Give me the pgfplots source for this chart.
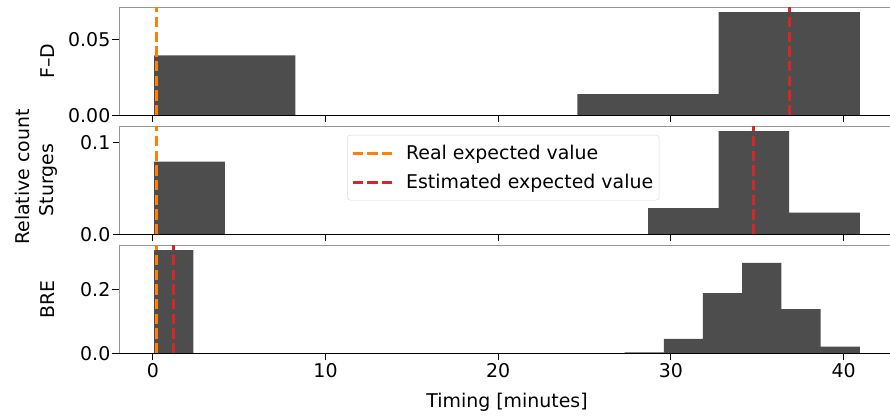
\documentclass[border=0pt]{standalone}
\usepackage{pgfplots}
\pgfplotsset{compat=1.18}
\usepackage{fontspec}
\setmainfont{DejaVu Sans}
\definecolor{barc}{RGB}{77,77,77}
\definecolor{torange}{HTML}{FF7F0E}
\definecolor{tred}{HTML}{D62728}
\definecolor{spine}{RGB}{150,150,150}

\pgfplotsset{
  hpanel/.style={
    scale only axis, width=776bp, height=108.3bp,
    xmin=-1.96, xmax=42.98, ymin=0,
    anchor=north west,
    axis line style={draw=spine, line width=0.9bp},
    tick style={black, line width=0.9bp},
    tick align=outside, major tick length=6.5bp,
    xtick={0,10,20,30,40},
    xtick pos=bottom, ytick pos=left,
    scaled y ticks=false,
    font=\fontsize{19}{22.8}\selectfont,
    /pgf/number format/assume math mode=true,
    yticklabel style={inner xsep=2bp},
    ylabel style={at={(axis description cs:-0.0915,0.5)}, anchor=center},
    bars/.style={ybar interval, fill=barc, draw=none, forget plot},
    realv/.style={torange, line width=2.78bp, dash pattern=on 10.3bp off 4.4bp},
    estv/.style={tred, line width=2.78bp, dash pattern=on 10.3bp off 4.4bp},
  }
}

\begin{document}
\begin{tikzpicture}
% ---------------- F-D -----------------
\begin{axis}[hpanel, at={(119bp,-7bp)}, ymax=0.0715,
  ytick={0,0.05}, xticklabels={},
  yticklabel style={/pgf/number format/fixed, /pgf/number format/fixed zerofill, /pgf/number format/precision=2},
  ylabel={F–D}]
\addplot[bars] coordinates {(0.08,0.0396) (8.25,0) (16.42,0) (24.59,0.0139) (32.77,0.0681) (40.94,0.0681)};
\addplot[realv] coordinates {(0.23,0) (0.23,0.0715)};
\addplot[estv] coordinates {(36.85,0) (36.85,0.0715)};
\draw[black, line width=0.9bp] (rel axis cs:0,0) -- (rel axis cs:1,0);
\end{axis}
% ---------------- Sturges -----------------
\begin{axis}[hpanel, at={(119bp,-126bp)}, ymax=0.1176,
  ytick={0,0.1}, xticklabels={},
  yticklabel style={/pgf/number format/fixed, /pgf/number format/fixed zerofill, /pgf/number format/precision=1},
  ylabel={Sturges},
  legend style={at={(rel axis cs:0.294,0.917)}, anchor=north west,
    draw=black!15, rounded corners=3bp, fill=white, fill opacity=0.8, text opacity=1,
    font=\fontsize{19}{22.8}\selectfont, inner xsep=4bp, inner ysep=8bp,
    row sep=9.3bp, legend cell align=left},
  legend image code/.code={\draw[#1] (0bp,0bp) -- (40bp,0bp);},
  /tikz/every odd column/.append style={column sep=10bp}]
\addplot[bars] coordinates {(0.08,0.0789) (4.17,0) (8.25,0) (12.34,0) (16.42,0) (20.51,0) (24.59,0) (28.68,0.0284) (32.77,0.112) (36.85,0.0236) (40.94,0.0236)};
\addplot[realv] coordinates {(0.23,0) (0.23,0.1176)};
\addlegendentry{Real expected value}
\addplot[estv] coordinates {(34.8,0) (34.8,0.1176)};
\addlegendentry{Estimated expected value}
\draw[black, line width=0.9bp] (rel axis cs:0,0) -- (rel axis cs:1,0);
\end{axis}
% ---------------- BRE -----------------
\begin{axis}[hpanel, at={(119bp,-245bp)}, ymax=0.338,
  ytick={0,0.2},
  yticklabel style={/pgf/number format/fixed, /pgf/number format/fixed zerofill, /pgf/number format/precision=1},
  ylabel={BRE},
  xlabel={Timing [minutes]},
  xlabel style={at={(axis description cs:0.5,0)}, anchor=center, yshift=-49bp}]
\addplot[bars] coordinates {(0.08,0.322) (2.35,0) (4.62,0) (6.89,0) (9.16,0) (11.43,0) (13.70,0) (15.97,0) (18.24,0) (20.51,0) (22.78,0) (25.05,0) (27.32,0.003) (29.59,0.0447) (31.86,0.1875) (34.13,0.282) (36.40,0.1375) (38.67,0.0208) (40.94,0.0208)};
\addplot[realv] coordinates {(0.23,0) (0.23,0.338)};
\addplot[estv] coordinates {(1.2,0) (1.2,0.338)};
\draw[black, line width=0.9bp] (rel axis cs:0,0) -- (rel axis cs:1,0);
\end{axis}
\node[rotate=90, anchor=center, font=\fontsize{19}{22.8}\selectfont] at (22bp,-177bp) {Relative count};
\pgfresetboundingbox
\useasboundingbox (0,0) rectangle (890bp,-416bp);
\end{tikzpicture}
\end{document}
